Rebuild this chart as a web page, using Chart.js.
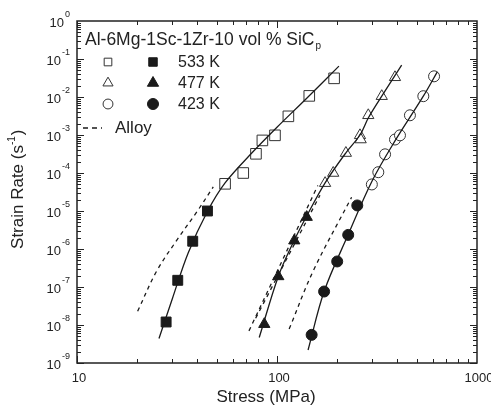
<!DOCTYPE html>
<html>
<head>
<meta charset="utf-8">
<script src="https://cdn.jsdelivr.net/npm/chart.js@4.4.1/dist/chart.umd.min.js"></script>
<style>
  html, body { margin: 0; padding: 0; background: #fff; }
  #wrap { width: 491px; height: 409px; }
</style>
</head>
<body>
<div id="wrap"><canvas id="myChart" width="491" height="409"></canvas></div>
<script>
// values: stress (MPa) and strain rate (1/s)
const stress533Filled = [27.9, 31.9, 37.9, 44.9];
const rate533Filled = [1.2e-8, 1.5e-7, 1.6e-6, 1.0e-5];
const stress533Open = [55, 67.8, 78.5, 84.5, 97.7, 114, 145, 193];
const rate533Open = [5.2e-5, 1.0e-4, 3.2e-4, 7.2e-4, 9.8e-4, 3.1e-3, 1.07e-2, 3.1e-2];
const stress533Fit = [25.7, 30, 36, 45, 55, 75, 100, 140, 204];
const rate533Fit = [4.4e-9, 5e-8, 8e-7, 1.0e-5, 5.5e-5, 3.4e-4, 1.6e-3, 9e-3, 6.5e-2];
const stress533Alloy = [20.1, 25, 32, 40, 48];
const rate533Alloy = [2.3e-8, 2.6e-7, 1.9e-6, 1.0e-5, 4.3e-5];

const stress477Filled = [86.4, 101.5, 122, 140.8];
const rate477Filled = [1.05e-8, 1.9e-7, 1.66e-6, 6.9e-6];
const stress477Open = [174, 191, 221, 260, 262, 286, 334, 389];
const rate477Open = [5.4e-5, 1.0e-4, 3.35e-4, 9.8e-4, 7.6e-4, 3.3e-3, 1.05e-2, 3.3e-2];
const stress477Fit = [81.5, 101.5, 122, 141, 174, 221, 260, 286, 334, 420];
const rate477Fit = [4.7e-9, 1.9e-7, 1.7e-6, 7.5e-6, 5.5e-5, 3.4e-4, 1.0e-3, 2.8e-3, 1.05e-2, 6.9e-2];
const stress477AlloyA = [72.4, 160];
const rate477AlloyA = [7e-9, 4.7e-5];
const stress477AlloyB = [78.2, 164];
const rate477AlloyB = [1.5e-8, 2.6e-5];

const stress423Filled = [149, 172, 200, 227, 252];
const rate423Filled = [5.5e-9, 7.6e-8, 4.7e-7, 2.35e-6, 1.4e-5];
const stress423Open = [298, 321, 347, 389, 412, 462, 539, 610];
const rate423Open = [5e-5, 1.05e-4, 3.1e-4, 7.6e-4, 9.8e-4, 3.3e-3, 1.05e-2, 3.5e-2];
const stress423Fit = [143, 172, 227, 298, 389, 539, 633];
const rate423Fit = [2.2e-9, 7.6e-8, 2.4e-6, 6e-5, 7e-4, 1.05e-2, 4.6e-2];
const stress423Alloy = [115, 152, 236];
const rate423Alloy = [7.8e-9, 2.7e-7, 2.3e-5];

const xTickValues = [10, 100, 1000];
const yTickExponents = [0, -1, -2, -3, -4, -5, -6, -7, -8, -9];
const legendLabels = ['533 K', '477 K', '423 K'];

const FONT = '"Liberation Sans", Arial, Helvetica, sans-serif';
const INK = '#1a1a1a';

function pts(xs, ys) {
    return xs.map((v, i) => ({ x: v, y: ys[i] }));
}

function lineSet(xs, ys, dashed) {
    return {
        type: 'line',
        data: pts(xs, ys),
        borderColor: INK,
        borderWidth: 1.3,
        borderDash: dashed ? [4, 4] : [],
        pointRadius: 0,
        tension: 0.35,
        fill: false
    };
}

function markerSet(xs, ys, style, filled, radius) {
    return {
        type: 'scatter',
        data: pts(xs, ys),
        pointStyle: style,
        pointRadius: radius,
        pointBackgroundColor: filled ? INK : '#fff',
        pointBorderColor: filled ? INK : '#333',
        pointBorderWidth: 1
    };
}

function drawMarker(ctx, style, filled, r, x, y) {
    ctx.save();
    ctx.beginPath();
    if (style === 'rect') {
        const s = r * Math.SQRT1_2;
        ctx.rect(x - s, y - s, 2 * s, 2 * s);
    } else if (style === 'triangle') {
        ctx.moveTo(x, y - r);
        ctx.lineTo(x + r * Math.sin(Math.PI * 2 / 3), y - r * Math.cos(Math.PI * 2 / 3));
        ctx.lineTo(x - r * Math.sin(Math.PI * 2 / 3), y - r * Math.cos(Math.PI * 2 / 3));
        ctx.closePath();
    } else {
        ctx.arc(x, y, r, 0, Math.PI * 2);
    }
    ctx.fillStyle = filled ? INK : '#fff';
    ctx.fill();
    ctx.lineWidth = 1;
    ctx.strokeStyle = filled ? INK : '#333';
    ctx.stroke();
    ctx.restore();
}

const decor = {
    id: 'decor',
    afterDraw(chart) {
        const { ctx, chartArea: { left, right, top, bottom }, scales: { x, y } } = chart;
        ctx.save();

        // frame
        ctx.strokeStyle = '#222';
        ctx.lineWidth = 1.5;
        ctx.strokeRect(left, top, right - left, bottom - top);

        // inward ticks on all four sides
        ctx.lineWidth = 1;
        ctx.beginPath();
        for (let d = 10; d < 1000; d *= 10) {
            for (let m = 1; m <= 9; m++) {
                const px = Math.round(x.getPixelForValue(m * d)) + 0.5;
                const len = m === 1 ? 7 : 4;
                ctx.moveTo(px, bottom); ctx.lineTo(px, bottom - len);
                ctx.moveTo(px, top); ctx.lineTo(px, top + len);
            }
        }
        for (let e = -9; e < 0; e++) {
            for (let m = 1; m <= 9; m++) {
                const py = Math.round(y.getPixelForValue(m * Math.pow(10, e))) + 0.5;
                const len = m === 1 ? 7 : 4;
                ctx.moveTo(left, py); ctx.lineTo(left + len, py);
                ctx.moveTo(right, py); ctx.lineTo(right - len, py);
            }
        }
        ctx.stroke();

        ctx.fillStyle = '#222';
        // y tick labels: 10 with superscript exponent
        yTickExponents.forEach(e => {
            const py = y.getPixelForValue(Math.pow(10, e));
            ctx.textBaseline = 'middle';
            const expText = e === 0 ? '0' : '-' + Math.abs(e);
            ctx.font = '9px ' + FONT;
            const ew = ctx.measureText(expText).width;
            ctx.textAlign = 'left';
            ctx.fillText(expText, left - 7 - ew, py - 6);
            ctx.font = '13px ' + FONT;
            ctx.textAlign = 'right';
            ctx.fillText('10', left - 8 - ew, py + 2);
        });

        // x tick labels
        ctx.font = '13px ' + FONT;
        ctx.textAlign = 'center';
        ctx.textBaseline = 'middle';
        xTickValues.forEach(v => {
            ctx.fillText(String(v), x.getPixelForValue(v) + 2, bottom + 15);
        });

        // axis titles
        ctx.font = '17px ' + FONT;
        ctx.fillText('Stress (MPa)', (left + right) / 2 - 11, bottom + 34);
        ctx.save();
        ctx.translate(18, 190);
        ctx.rotate(-Math.PI / 2);
        ctx.textAlign = 'center';
        ctx.fillText('Strain Rate (s', -7, 0);
        const tw = ctx.measureText('Strain Rate (s').width;
        ctx.font = '10px ' + FONT;
        ctx.textAlign = 'left';
        ctx.fillText('-1', -7 + tw / 2, -6);
        const sw = ctx.measureText('-1').width;
        ctx.font = '17px ' + FONT;
        ctx.fillText(')', -7 + tw / 2 + sw + 1, 0);
        ctx.restore();

        // composition label
        ctx.font = '17.5px ' + FONT;
        ctx.textAlign = 'left';
        const title = 'Al-6Mg-1Sc-1Zr-10 vol % SiC';
        ctx.fillText(title, left + 8, top + 19);
        const tW = ctx.measureText(title).width;
        ctx.font = '10px ' + FONT;
        ctx.fillText('p', left + 8 + tW + 1, top + 25);

        // legend
        const styles = ['rect', 'triangle', 'circle'];
        const radii = [6, 6.5, 5.5];
        const rowY = [62, 83, 104];
        ctx.font = '16px ' + FONT;
        legendLabels.forEach((lab, i) => {
            drawMarker(ctx, styles[i], false, radii[i] * 0.9, 108, rowY[i]);
            drawMarker(ctx, styles[i], true, radii[i], 153, rowY[i]);
            ctx.fillStyle = '#222';
            ctx.fillText(lab, 178, rowY[i] + 1);
        });
        ctx.strokeStyle = INK;
        ctx.lineWidth = 1.3;
        ctx.setLineDash([5, 4]);
        ctx.beginPath();
        ctx.moveTo(83, 128); ctx.lineTo(102, 128);
        ctx.stroke();
        ctx.setLineDash([]);
        ctx.font = '17px ' + FONT;
        ctx.fillText('Alloy', 115, 128);

        ctx.restore();
    }
};

const ctx = document.getElementById('myChart').getContext('2d');
new Chart(ctx, {
    data: {
        datasets: [
            lineSet(stress533Alloy, rate533Alloy, true),
            lineSet(stress477AlloyA, rate477AlloyA, true),
            lineSet(stress477AlloyB, rate477AlloyB, true),
            lineSet(stress423Alloy, rate423Alloy, true),
            lineSet(stress533Fit, rate533Fit, false),
            lineSet(stress477Fit, rate477Fit, false),
            lineSet(stress423Fit, rate423Fit, false),
            markerSet(stress533Open, rate533Open, 'rect', false, 7.5),
            markerSet(stress533Filled, rate533Filled, 'rect', true, 7),
            markerSet(stress477Open, rate477Open, 'triangle', false, 6.5),
            markerSet(stress477Filled, rate477Filled, 'triangle', true, 6.5),
            markerSet(stress423Open, rate423Open, 'circle', false, 5.5),
            markerSet(stress423Filled, rate423Filled, 'circle', true, 5.5)
        ]
    },
    options: {
        responsive: false,
        animation: false,
        layout: { padding: { left: 77, right: 14, top: 21, bottom: 46 } },
        plugins: { legend: { display: false }, tooltip: { enabled: false } },
        scales: {
            x: { type: 'logarithmic', min: 10, max: 1000, display: false },
            y: { type: 'logarithmic', min: 1e-9, max: 1, display: false }
        }
    },
    plugins: [decor]
});
</script>
</body>
</html>
